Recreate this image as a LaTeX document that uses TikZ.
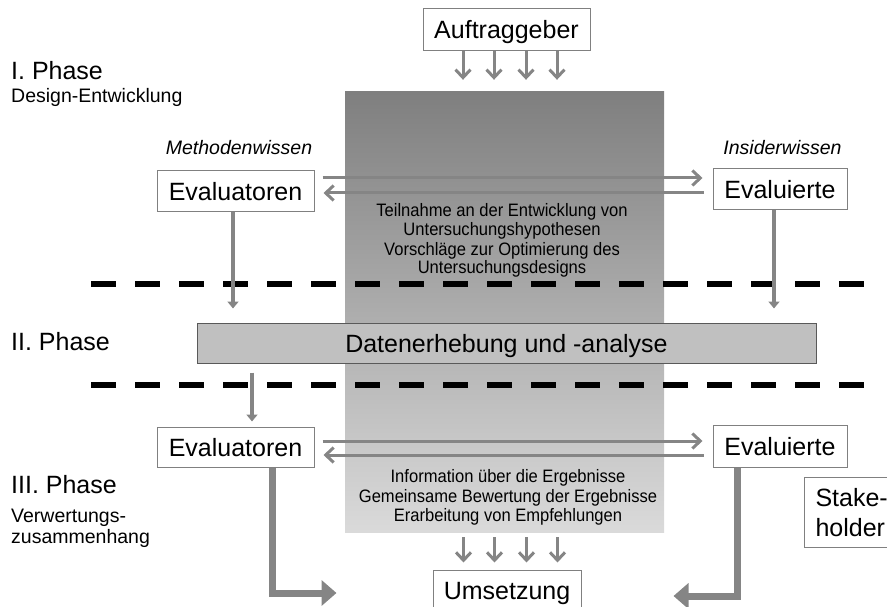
\documentclass[tikz,border=0pt]{standalone}
\usepackage{fontspec}
\setmainfont{Liberation Sans}
\newfontfamily\narrowsans[FakeStretch=0.92]{Liberation Sans}
\usetikzlibrary{arrows.meta,calc}
\definecolor{framegray}{HTML}{808080}
\definecolor{arrowgray}{HTML}{858585}
\definecolor{shadetop}{HTML}{7F7F7F}
\definecolor{shadebot}{HTML}{DADADA}
\definecolor{barfill}{HTML}{C0C0C0}
\definecolor{barline}{HTML}{595959}

\begin{document}
\begin{tikzpicture}[x=1pt,y=-1pt,
  box/.style={draw=framegray, fill=white, line width=1pt, inner sep=0pt,
    text height=18pt, text depth=0pt, font=\fontsize{25}{30}\selectfont},
  bigtext/.style={font=\fontsize{25}{30}\selectfont, inner sep=0pt, anchor=base west},
  subtext/.style={font=\fontsize{19.5}{22}\selectfont, inner sep=0pt, anchor=base west},
  knowtext/.style={font=\fontsize{19.5}{22}\selectfont\itshape, inner sep=0pt, anchor=base},
  midtext/.style={font=\narrowsans\fontsize{18}{20}\selectfont, inner sep=0pt, anchor=base},
  thinarr/.style={draw=arrowgray, line width=3pt, -{Straight Barb[length=8pt,width=15pt]}},
  medarr/.style={draw=arrowgray, line width=4.5pt, -{Triangle[length=7pt,width=11pt]}},
  fatarr/.style={draw=arrowgray, line width=7pt, -{Triangle[length=15pt,width=25pt]}},
  phasebreak/.style={draw=black, line width=6pt, dash pattern=on 25pt off 19pt}
]
\clip (0,0) rectangle (887,607);

% shaded cooperation column
\node[top color=shadetop, bottom color=shadebot, draw=none, inner sep=0pt,
      minimum width=319pt, minimum height=440pt] (core) at (504.5,312) {};

% phase separators
\coordinate (sepAl) at (91,284);  \coordinate (sepAr) at (864,284);
\coordinate (sepBl) at (91,385);  \coordinate (sepBr) at (864,385);
\draw[phasebreak] (sepAl) -- (sepAr);
\draw[phasebreak] (sepBl) -- (sepBr);

% boxes
\node[box, minimum width=167pt, minimum height=42pt] (auf) at (506.5,30) {Auftraggeber};
\node[box, minimum width=157pt, minimum height=41pt] (ev1) at (235.5,191.5) {Evaluatoren};
\node[box, minimum width=134pt, minimum height=41pt] (evi1) at (780,189.5) {Evaluierte};
\node[box, draw=barline, fill=barfill, minimum width=619pt, minimum height=40pt] (dat) at (506.5,343) {Datenerhebung und -analyse};
\node[box, minimum width=157pt, minimum height=40pt] (ev2) at (235.5,447) {Evaluatoren};
\node[box, minimum width=134pt, minimum height=42pt] (evi2) at (780,446) {Evaluierte};
\node[box, minimum width=148pt, minimum height=40pt] (ums) at (507,590) {Umsetzung};
\node[draw=framegray, fill=white, line width=1pt, inner xsep=11pt, inner ysep=0pt,
      minimum height=70pt, align=left, anchor=north west,
      font=\fontsize{25}{30}\selectfont] (stk) at (804,477) {Stake-\\holder};

% client input and implementation arrows
\foreach \dx [count=\i] in {-43.5,-12.5,19.5,50.5} {
  \coordinate (atop\i) at ([xshift=\dx pt]auf.south);
  \draw[thinarr, shorten >=12pt] (atop\i) -- (atop\i |- core.north);
  \coordinate (abot\i) at ([xshift=\dx pt]ums.north);
  \draw[thinarr, shorten <=5pt, shorten >=7pt] (abot\i |- core.south) -- (abot\i);
}

% exchange between evaluators and evaluated, phase I
\coordinate (hA) at ([yshift=13.5pt]ev1.east);
\draw[thinarr, shorten <=8pt, shorten >=10pt] (hA) -- (hA -| evi1.west);
\coordinate (hB) at ([yshift=-1.5pt]ev1.east);
\draw[thinarr, shorten <=9pt, shorten >=9pt] (hB -| evi1.west) -- (hB);

% exchange, phase III
\coordinate (hC) at ([yshift=6pt]ev2.east);
\draw[thinarr, shorten <=8pt, shorten >=10pt] (hC) -- (hC -| evi2.west);
\coordinate (hD) at ([yshift=-8pt]ev2.east);
\draw[thinarr, shorten <=9pt, shorten >=9pt] (hD -| evi2.west) -- (hD);

% into and out of data collection
\coordinate (vA) at ([xshift=-2.5pt]ev1.south);
\draw[medarr, shorten >=14pt] (vA) -- (vA |- dat.north);
\coordinate (vB) at ([xshift=-6pt]evi1.south);
\draw[medarr, shorten >=14pt] (vB) -- (vB |- dat.north);
\coordinate (vC) at ([xshift=16.5pt]ev2.north);
\draw[medarr, shorten <=9pt, shorten >=5pt] (vC |- dat.south) -- (vC);

% routes to implementation
\draw[fatarr, shorten >=96pt] ([xshift=36.5pt]ev2.south) |- ([yshift=-3pt]ums.west);
\draw[fatarr, shorten >=92pt] ([xshift=-43pt]evi2.south) |- ([yshift=-6pt]ums.east);

% phase labels
\node[bigtext] (p1) at (11,80) {I. Phase};
\node[subtext] (p1s) at (11,103) {Design-Entwicklung};
\node[bigtext] (p2) at (11,350) {II. Phase};
\node[bigtext] (p3) at (11,493) {III. Phase};
\node[subtext] (p3s) at (11,522) {Verwertungs-};
\node[subtext] (p3t) at (11,543) {zusammenhang};

% kinds of knowledge
\node[knowtext] (mw) at (239,155) {Methodenwissen};
\node[knowtext] (iw) at (782.5,155) {Insiderwissen};

% participation, phase I
\node[midtext] (ta) at (502,217) {Teilnahme an der Entwicklung von};
\node[midtext] (tb) at (502,236) {Untersuchungshypothesen};
\node[midtext] (tc) at (502,255) {Vorschläge zur Optimierung des};
\node[midtext] (td) at (502,273) {Untersuchungsdesigns};

% participation, phase III
\node[midtext] (ra) at (508,482) {Information über die Ergebnisse};
\node[midtext] (rb) at (508,502) {Gemeinsame Bewertung der Ergebnisse};
\node[midtext] (rc) at (508,521) {Erarbeitung von Empfehlungen};
\end{tikzpicture}
\end{document}
